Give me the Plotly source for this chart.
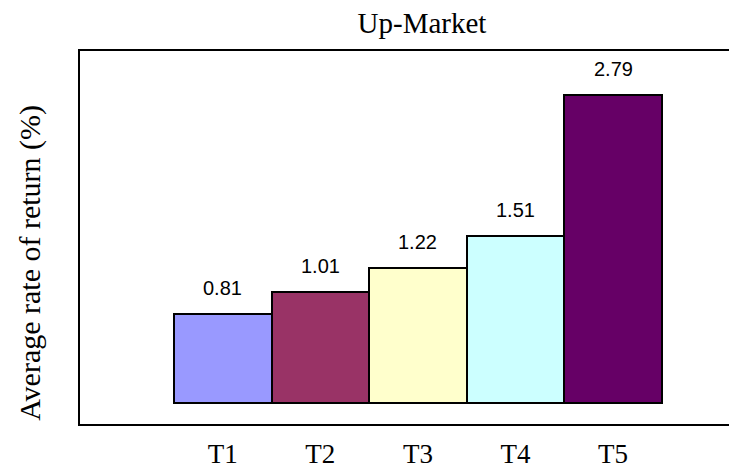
import plotly.graph_objects as go

categories = ["T1", "T2", "T3", "T4", "T5"]
values = [0.81, 1.01, 1.22, 1.51, 2.79]
bar_colors = ["#9999FF", "#993366", "#FFFFCC", "#CCFFFF", "#660066"]
title_text = "Up-Market"
y_title = "Average rate of return (%)"

W, H = 729, 460  # page body adds an 8px offset

fig = go.Figure()
fig.add_trace(go.Bar(
    x=categories, y=values,
    marker=dict(color=bar_colors, line=dict(color="black", width=2)),
    width=1.0,
    hoverinfo="skip",
))

for c, v in zip(categories, values):
    fig.add_annotation(
        x=c, y=v, xref="x", yref="y", text=f"{v:.2f}", showarrow=False,
        yanchor="bottom", yshift=13,
        font=dict(family="Liberation Sans, Arial", size=20, color="black"),
    )

fig.add_annotation(
    x=-50/657, y=0.432, xref="paper", yref="paper", text=y_title,
    showarrow=False, textangle=-90, xanchor="center", yanchor="middle",
    font=dict(family="Liberation Serif, Times New Roman", size=30, color="black"),
)

fig.update_layout(
    width=W, height=H,
    margin=dict(l=72, r=0, t=43, b=44, autoexpand=False),
    paper_bgcolor="white", plot_bgcolor="white",
    showlegend=False,
    bargap=0,
    title=dict(
        text=title_text, x=414/W, xanchor="center", xref="container",
        y=1 - 15/H, yanchor="middle", yref="container",
        font=dict(family="Liberation Serif, Times New Roman", size=29, color="black"),
    ),
    xaxis=dict(
        type="category", range=[-1.463, 5.27], automargin=False,
        showline=True, linecolor="black", linewidth=2, mirror=True,
        showgrid=False, zeroline=False, ticks="",
        ticklabelstandoff=5,
        tickfont=dict(family="Liberation Serif, Times New Roman", size=27, color="black"),
    ),
    yaxis=dict(
        range=[-0.19, 3.19], automargin=False,
        showline=True, linecolor="black", linewidth=2, mirror=False,
        showgrid=False, zeroline=False, showticklabels=False, ticks="",
    ),
)

fig.write_html("out.html")
